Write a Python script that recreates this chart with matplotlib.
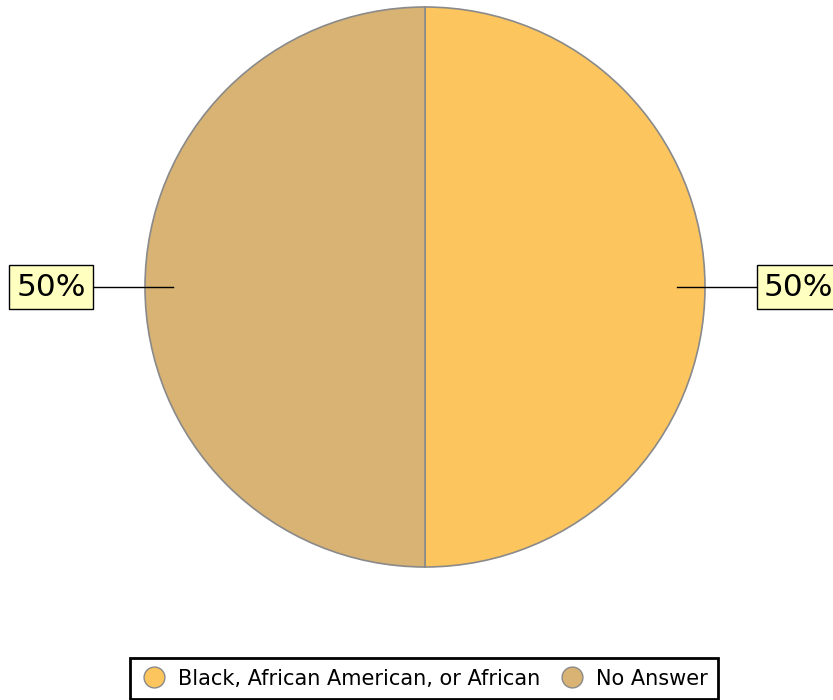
import matplotlib.pyplot as plt
from matplotlib.lines import Line2D

plt.rcParams['font.family'] = ['DejaVu Sans']

# data
categories = ['Black, African American, or African', 'No Answer']
values = [50, 50]
colors = ['#FDC55E', '#D8B373']
labels = ['50%', '50%']

fig = plt.figure(figsize=(8.33, 7.0), dpi=100)
ax = fig.add_axes([0, 0, 1, 1])

cx, cy, r = 425, 413, 280
wedges, _ = ax.pie(values, colors=colors, startangle=90, counterclock=False,
                   center=(cx, cy), radius=r,
                   wedgeprops=dict(edgecolor='#8a8a8a', linewidth=1.2))
ax.set_xlim(0, 833)
ax.set_ylim(0, 700)
ax.set_aspect('equal')
ax.axis('off')

# leader lines and label boxes
for i, w in enumerate(wedges):
    side = 1 if i == 0 else -1
    x0 = cx + side * (r - 28)
    x1 = cx + side * (r + 52)
    ax.plot([x0, x1], [cy, cy], color='black', lw=1)
    ax.text(x1 + side * 7, cy, labels[i], ha='left' if side > 0 else 'right',
            va='center', fontsize=22.5, color='black',
            bbox=dict(boxstyle='square,pad=0.23', facecolor='#FFFFC0',
                      edgecolor='black', linewidth=1))

handles = [Line2D([], [], marker='o', linestyle='', markersize=15,
                  markerfacecolor=c, markeredgecolor='#8a8a8a')
           for c in colors]
leg = ax.legend(handles, categories, loc='lower center', bbox_to_anchor=(0.509, 0.0),
                ncol=2, fontsize=15, frameon=True, fancybox=False, framealpha=1,
                handletextpad=0.5, columnspacing=0.9, borderpad=0.5,
                handlelength=1.3, borderaxespad=0.05)
leg.get_frame().set_edgecolor('black')
leg.get_frame().set_linewidth(2)

fig.savefig('out.png', dpi=100)
